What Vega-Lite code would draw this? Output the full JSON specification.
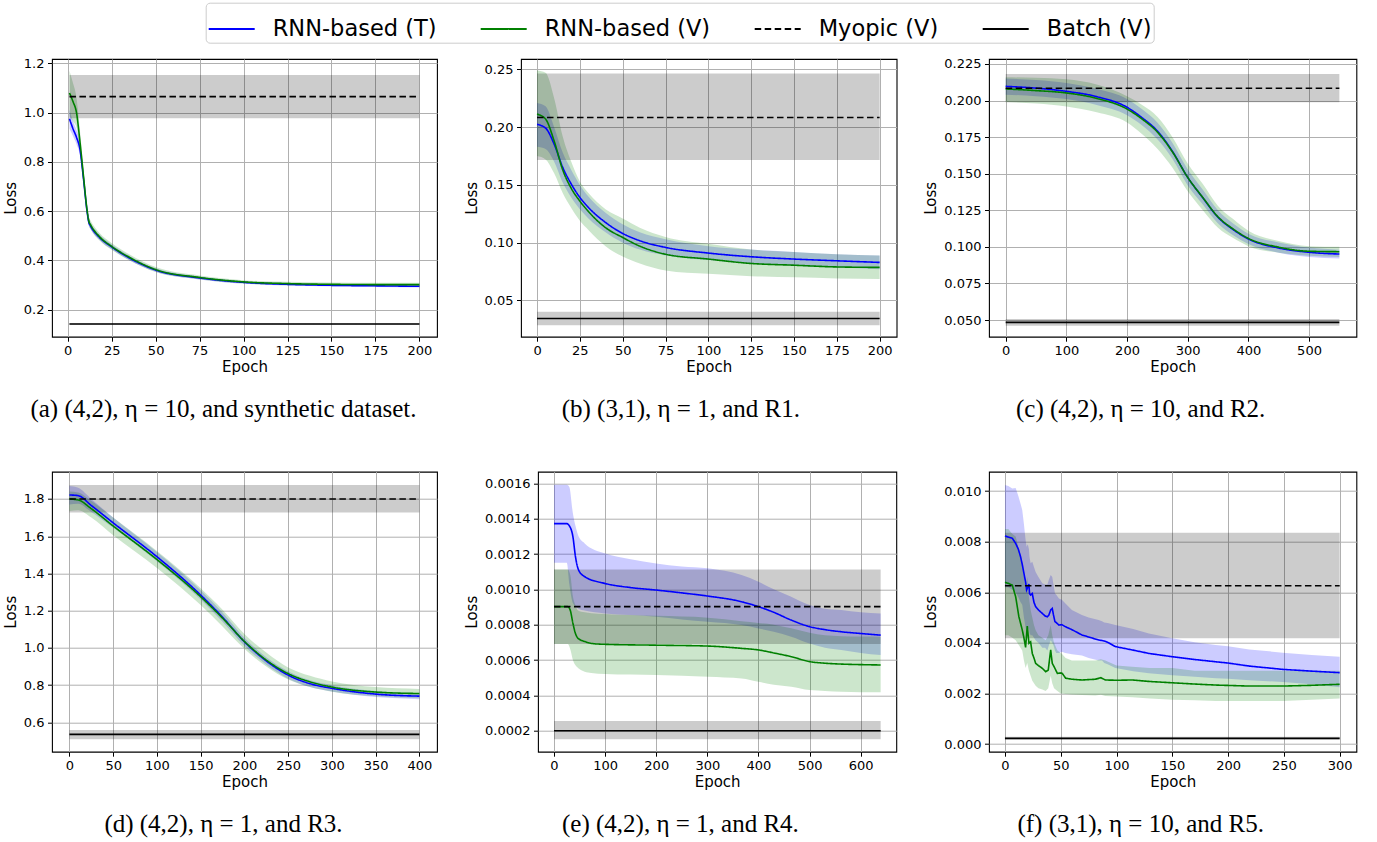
{
"$schema": "https://vega.github.io/schema/vega-lite/v6.json",
"background": "#ffffff",
"padding": {"left": 2, "top": 2, "right": 5, "bottom": 0},
"datasets": {
"curves": [
{"p":"a","s":"RNN-based (T)","x":1,"y":0.975,"lo":0.935,"hi":1.012},
{"p":"a","s":"RNN-based (T)","x":3,"y":0.935,"lo":0.905,"hi":0.965},
{"p":"a","s":"RNN-based (T)","x":5,"y":0.9,"lo":0.872,"hi":0.93},
{"p":"a","s":"RNN-based (T)","x":7,"y":0.85,"lo":0.825,"hi":0.875},
{"p":"a","s":"RNN-based (T)","x":9,"y":0.73,"lo":0.71,"hi":0.75},
{"p":"a","s":"RNN-based (T)","x":11,"y":0.6,"lo":0.585,"hi":0.615},
{"p":"a","s":"RNN-based (T)","x":12,"y":0.555,"lo":0.54,"hi":0.57},
{"p":"a","s":"RNN-based (T)","x":13,"y":0.54,"lo":0.527,"hi":0.553},
{"p":"a","s":"RNN-based (T)","x":18,"y":0.494,"lo":0.483,"hi":0.505},
{"p":"a","s":"RNN-based (T)","x":25,"y":0.455,"lo":0.445,"hi":0.465},
{"p":"a","s":"RNN-based (T)","x":35,"y":0.41,"lo":0.401,"hi":0.419},
{"p":"a","s":"RNN-based (T)","x":50,"y":0.361,"lo":0.354,"hi":0.368},
{"p":"a","s":"RNN-based (T)","x":75,"y":0.329,"lo":0.323,"hi":0.335},
{"p":"a","s":"RNN-based (T)","x":100,"y":0.311,"lo":0.306,"hi":0.316},
{"p":"a","s":"RNN-based (T)","x":125,"y":0.303,"lo":0.298,"hi":0.308},
{"p":"a","s":"RNN-based (T)","x":150,"y":0.299,"lo":0.294,"hi":0.304},
{"p":"a","s":"RNN-based (T)","x":175,"y":0.297,"lo":0.292,"hi":0.302},
{"p":"a","s":"RNN-based (T)","x":200,"y":0.295,"lo":0.29,"hi":0.3},
{"p":"a","s":"RNN-based (V)","x":1,"y":1.08,"lo":0.985,"hi":1.17},
{"p":"a","s":"RNN-based (V)","x":3,"y":1.045,"lo":0.965,"hi":1.12},
{"p":"a","s":"RNN-based (V)","x":5,"y":1.0,"lo":0.94,"hi":1.06},
{"p":"a","s":"RNN-based (V)","x":7,"y":0.88,"lo":0.84,"hi":0.925},
{"p":"a","s":"RNN-based (V)","x":9,"y":0.74,"lo":0.71,"hi":0.77},
{"p":"a","s":"RNN-based (V)","x":11,"y":0.605,"lo":0.585,"hi":0.625},
{"p":"a","s":"RNN-based (V)","x":12,"y":0.56,"lo":0.543,"hi":0.577},
{"p":"a","s":"RNN-based (V)","x":13,"y":0.545,"lo":0.528,"hi":0.562},
{"p":"a","s":"RNN-based (V)","x":18,"y":0.497,"lo":0.482,"hi":0.512},
{"p":"a","s":"RNN-based (V)","x":25,"y":0.457,"lo":0.443,"hi":0.471},
{"p":"a","s":"RNN-based (V)","x":35,"y":0.413,"lo":0.401,"hi":0.425},
{"p":"a","s":"RNN-based (V)","x":50,"y":0.363,"lo":0.353,"hi":0.373},
{"p":"a","s":"RNN-based (V)","x":75,"y":0.331,"lo":0.323,"hi":0.339},
{"p":"a","s":"RNN-based (V)","x":100,"y":0.313,"lo":0.306,"hi":0.32},
{"p":"a","s":"RNN-based (V)","x":125,"y":0.306,"lo":0.299,"hi":0.313},
{"p":"a","s":"RNN-based (V)","x":150,"y":0.303,"lo":0.296,"hi":0.31},
{"p":"a","s":"RNN-based (V)","x":175,"y":0.302,"lo":0.295,"hi":0.309},
{"p":"a","s":"RNN-based (V)","x":200,"y":0.302,"lo":0.295,"hi":0.309},
{"p":"b","s":"RNN-based (T)","x":0,"y":0.2024,"lo":0.183,"hi":0.221},
{"p":"b","s":"RNN-based (T)","x":5,"y":0.1992,"lo":0.181,"hi":0.218},
{"p":"b","s":"RNN-based (T)","x":10,"y":0.1853,"lo":0.17,"hi":0.2},
{"p":"b","s":"RNN-based (T)","x":15,"y":0.1652,"lo":0.152,"hi":0.178},
{"p":"b","s":"RNN-based (T)","x":20,"y":0.1507,"lo":0.139,"hi":0.163},
{"p":"b","s":"RNN-based (T)","x":25,"y":0.1392,"lo":0.129,"hi":0.15},
{"p":"b","s":"RNN-based (T)","x":30,"y":0.1305,"lo":0.121,"hi":0.14},
{"p":"b","s":"RNN-based (T)","x":40,"y":0.1175,"lo":0.109,"hi":0.126},
{"p":"b","s":"RNN-based (T)","x":50,"y":0.108,"lo":0.1,"hi":0.116},
{"p":"b","s":"RNN-based (T)","x":60,"y":0.1017,"lo":0.094,"hi":0.109},
{"p":"b","s":"RNN-based (T)","x":75,"y":0.0959,"lo":0.089,"hi":0.103},
{"p":"b","s":"RNN-based (T)","x":100,"y":0.091,"lo":0.085,"hi":0.097},
{"p":"b","s":"RNN-based (T)","x":125,"y":0.0878,"lo":0.082,"hi":0.094},
{"p":"b","s":"RNN-based (T)","x":150,"y":0.0858,"lo":0.08,"hi":0.092},
{"p":"b","s":"RNN-based (T)","x":175,"y":0.0843,"lo":0.0785,"hi":0.09},
{"p":"b","s":"RNN-based (T)","x":200,"y":0.0829,"lo":0.077,"hi":0.089},
{"p":"b","s":"RNN-based (V)","x":0,"y":0.2113,"lo":0.175,"hi":0.249},
{"p":"b","s":"RNN-based (V)","x":5,"y":0.207,"lo":0.172,"hi":0.247},
{"p":"b","s":"RNN-based (V)","x":10,"y":0.188,"lo":0.16,"hi":0.225},
{"p":"b","s":"RNN-based (V)","x":15,"y":0.163,"lo":0.143,"hi":0.192},
{"p":"b","s":"RNN-based (V)","x":20,"y":0.147,"lo":0.13,"hi":0.17},
{"p":"b","s":"RNN-based (V)","x":25,"y":0.136,"lo":0.119,"hi":0.153},
{"p":"b","s":"RNN-based (V)","x":30,"y":0.127,"lo":0.111,"hi":0.143},
{"p":"b","s":"RNN-based (V)","x":40,"y":0.113,"lo":0.097,"hi":0.129},
{"p":"b","s":"RNN-based (V)","x":50,"y":0.1045,"lo":0.088,"hi":0.121},
{"p":"b","s":"RNN-based (V)","x":60,"y":0.097,"lo":0.082,"hi":0.113},
{"p":"b","s":"RNN-based (V)","x":75,"y":0.09,"lo":0.076,"hi":0.105},
{"p":"b","s":"RNN-based (V)","x":100,"y":0.0858,"lo":0.073,"hi":0.099},
{"p":"b","s":"RNN-based (V)","x":125,"y":0.082,"lo":0.071,"hi":0.094},
{"p":"b","s":"RNN-based (V)","x":150,"y":0.0805,"lo":0.07,"hi":0.092},
{"p":"b","s":"RNN-based (V)","x":175,"y":0.079,"lo":0.069,"hi":0.09},
{"p":"b","s":"RNN-based (V)","x":200,"y":0.0786,"lo":0.0685,"hi":0.089},
{"p":"c","s":"RNN-based (T)","x":0,"y":0.2097,"lo":0.204,"hi":0.215},
{"p":"c","s":"RNN-based (T)","x":50,"y":0.2085,"lo":0.203,"hi":0.214},
{"p":"c","s":"RNN-based (T)","x":100,"y":0.2063,"lo":0.201,"hi":0.212},
{"p":"c","s":"RNN-based (T)","x":150,"y":0.2027,"lo":0.197,"hi":0.208},
{"p":"c","s":"RNN-based (T)","x":200,"y":0.1954,"lo":0.19,"hi":0.201},
{"p":"c","s":"RNN-based (T)","x":225,"y":0.1882,"lo":0.183,"hi":0.194},
{"p":"c","s":"RNN-based (T)","x":250,"y":0.1792,"lo":0.1735,"hi":0.185},
{"p":"c","s":"RNN-based (T)","x":275,"y":0.1652,"lo":0.16,"hi":0.171},
{"p":"c","s":"RNN-based (T)","x":300,"y":0.1475,"lo":0.142,"hi":0.153},
{"p":"c","s":"RNN-based (T)","x":325,"y":0.1335,"lo":0.129,"hi":0.139},
{"p":"c","s":"RNN-based (T)","x":350,"y":0.1202,"lo":0.116,"hi":0.125},
{"p":"c","s":"RNN-based (T)","x":375,"y":0.1118,"lo":0.108,"hi":0.116},
{"p":"c","s":"RNN-based (T)","x":400,"y":0.1054,"lo":0.102,"hi":0.109},
{"p":"c","s":"RNN-based (T)","x":450,"y":0.0992,"lo":0.096,"hi":0.103},
{"p":"c","s":"RNN-based (T)","x":500,"y":0.0963,"lo":0.093,"hi":0.0995},
{"p":"c","s":"RNN-based (T)","x":550,"y":0.0951,"lo":0.092,"hi":0.098},
{"p":"c","s":"RNN-based (V)","x":0,"y":0.2079,"lo":0.199,"hi":0.216},
{"p":"c","s":"RNN-based (V)","x":50,"y":0.2068,"lo":0.198,"hi":0.2155},
{"p":"c","s":"RNN-based (V)","x":100,"y":0.2052,"lo":0.196,"hi":0.2145},
{"p":"c","s":"RNN-based (V)","x":150,"y":0.2015,"lo":0.192,"hi":0.211},
{"p":"c","s":"RNN-based (V)","x":200,"y":0.1942,"lo":0.185,"hi":0.203},
{"p":"c","s":"RNN-based (V)","x":225,"y":0.1873,"lo":0.177,"hi":0.197},
{"p":"c","s":"RNN-based (V)","x":250,"y":0.1785,"lo":0.167,"hi":0.189},
{"p":"c","s":"RNN-based (V)","x":275,"y":0.1648,"lo":0.154,"hi":0.175},
{"p":"c","s":"RNN-based (V)","x":300,"y":0.1475,"lo":0.138,"hi":0.157},
{"p":"c","s":"RNN-based (V)","x":325,"y":0.1337,"lo":0.125,"hi":0.143},
{"p":"c","s":"RNN-based (V)","x":350,"y":0.1205,"lo":0.113,"hi":0.128},
{"p":"c","s":"RNN-based (V)","x":375,"y":0.1122,"lo":0.106,"hi":0.119},
{"p":"c","s":"RNN-based (V)","x":400,"y":0.1058,"lo":0.1005,"hi":0.111},
{"p":"c","s":"RNN-based (V)","x":450,"y":0.0998,"lo":0.096,"hi":0.104},
{"p":"c","s":"RNN-based (V)","x":500,"y":0.097,"lo":0.094,"hi":0.1005},
{"p":"c","s":"RNN-based (V)","x":550,"y":0.0967,"lo":0.093,"hi":0.1},
{"p":"d","s":"RNN-based (T)","x":0,"y":1.8215,"lo":1.77,"hi":1.87},
{"p":"d","s":"RNN-based (T)","x":10,"y":1.818,"lo":1.775,"hi":1.86},
{"p":"d","s":"RNN-based (T)","x":25,"y":1.765,"lo":1.73,"hi":1.8},
{"p":"d","s":"RNN-based (T)","x":50,"y":1.672,"lo":1.645,"hi":1.7},
{"p":"d","s":"RNN-based (T)","x":100,"y":1.49,"lo":1.465,"hi":1.515},
{"p":"d","s":"RNN-based (T)","x":150,"y":1.284,"lo":1.26,"hi":1.31},
{"p":"d","s":"RNN-based (T)","x":175,"y":1.165,"lo":1.14,"hi":1.19},
{"p":"d","s":"RNN-based (T)","x":200,"y":1.033,"lo":1.01,"hi":1.055},
{"p":"d","s":"RNN-based (T)","x":225,"y":0.93,"lo":0.91,"hi":0.95},
{"p":"d","s":"RNN-based (T)","x":250,"y":0.854,"lo":0.835,"hi":0.875},
{"p":"d","s":"RNN-based (T)","x":275,"y":0.808,"lo":0.79,"hi":0.826},
{"p":"d","s":"RNN-based (T)","x":300,"y":0.783,"lo":0.766,"hi":0.8},
{"p":"d","s":"RNN-based (T)","x":350,"y":0.752,"lo":0.736,"hi":0.768},
{"p":"d","s":"RNN-based (T)","x":400,"y":0.741,"lo":0.725,"hi":0.757},
{"p":"d","s":"RNN-based (V)","x":0,"y":1.8,"lo":1.735,"hi":1.84},
{"p":"d","s":"RNN-based (V)","x":10,"y":1.795,"lo":1.74,"hi":1.835},
{"p":"d","s":"RNN-based (V)","x":25,"y":1.748,"lo":1.7,"hi":1.79},
{"p":"d","s":"RNN-based (V)","x":50,"y":1.655,"lo":1.605,"hi":1.7},
{"p":"d","s":"RNN-based (V)","x":100,"y":1.475,"lo":1.43,"hi":1.52},
{"p":"d","s":"RNN-based (V)","x":150,"y":1.275,"lo":1.23,"hi":1.32},
{"p":"d","s":"RNN-based (V)","x":175,"y":1.16,"lo":1.115,"hi":1.205},
{"p":"d","s":"RNN-based (V)","x":200,"y":1.035,"lo":0.995,"hi":1.075},
{"p":"d","s":"RNN-based (V)","x":225,"y":0.935,"lo":0.9,"hi":0.975},
{"p":"d","s":"RNN-based (V)","x":250,"y":0.862,"lo":0.83,"hi":0.895},
{"p":"d","s":"RNN-based (V)","x":275,"y":0.818,"lo":0.79,"hi":0.85},
{"p":"d","s":"RNN-based (V)","x":300,"y":0.79,"lo":0.765,"hi":0.82},
{"p":"d","s":"RNN-based (V)","x":350,"y":0.763,"lo":0.74,"hi":0.79},
{"p":"d","s":"RNN-based (V)","x":400,"y":0.755,"lo":0.73,"hi":0.78},
{"p":"e","s":"RNN-based (T)","x":0,"y":0.001372,"lo":0.001151,"hi":0.001592},
{"p":"e","s":"RNN-based (T)","x":25,"y":0.001372,"lo":0.001151,"hi":0.001592},
{"p":"e","s":"RNN-based (T)","x":30,"y":0.00136,"lo":0.00103,"hi":0.00158},
{"p":"e","s":"RNN-based (T)","x":37,"y":0.001298,"lo":0.000921,"hi":0.00143},
{"p":"e","s":"RNN-based (T)","x":42,"y":0.001185,"lo":0.000905,"hi":0.00136},
{"p":"e","s":"RNN-based (T)","x":48,"y":0.00111,"lo":0.00089,"hi":0.0013},
{"p":"e","s":"RNN-based (T)","x":60,"y":0.001072,"lo":0.00088,"hi":0.00126},
{"p":"e","s":"RNN-based (T)","x":99,"y":0.001034,"lo":0.000864,"hi":0.001204},
{"p":"e","s":"RNN-based (T)","x":150,"y":0.00101,"lo":0.000855,"hi":0.00117},
{"p":"e","s":"RNN-based (T)","x":200,"y":0.000996,"lo":0.000845,"hi":0.001147},
{"p":"e","s":"RNN-based (T)","x":250,"y":0.00098,"lo":0.00083,"hi":0.00113},
{"p":"e","s":"RNN-based (T)","x":301,"y":0.000962,"lo":0.000817,"hi":0.001119},
{"p":"e","s":"RNN-based (T)","x":367,"y":0.00093,"lo":0.000798,"hi":0.001081},
{"p":"e","s":"RNN-based (T)","x":400,"y":0.000902,"lo":0.000779,"hi":0.001043},
{"p":"e","s":"RNN-based (T)","x":430,"y":0.00087,"lo":0.00076,"hi":0.001},
{"p":"e","s":"RNN-based (T)","x":464,"y":0.000826,"lo":0.000732,"hi":0.000958},
{"p":"e","s":"RNN-based (T)","x":500,"y":0.000789,"lo":0.000694,"hi":0.000911},
{"p":"e","s":"RNN-based (T)","x":530,"y":0.000772,"lo":0.00067,"hi":0.00089},
{"p":"e","s":"RNN-based (T)","x":562,"y":0.00076,"lo":0.000657,"hi":0.000883},
{"p":"e","s":"RNN-based (T)","x":600,"y":0.00075,"lo":0.00064,"hi":0.00087},
{"p":"e","s":"RNN-based (T)","x":639,"y":0.000741,"lo":0.000628,"hi":0.000864},
{"p":"e","s":"RNN-based (V)","x":0,"y":0.000902,"lo":0.000691,"hi":0.001113},
{"p":"e","s":"RNN-based (V)","x":27,"y":0.000902,"lo":0.000691,"hi":0.001113},
{"p":"e","s":"RNN-based (V)","x":32,"y":0.00088,"lo":0.00066,"hi":0.00108},
{"p":"e","s":"RNN-based (V)","x":37,"y":0.000808,"lo":0.0006,"hi":0.00096},
{"p":"e","s":"RNN-based (V)","x":42,"y":0.00075,"lo":0.00057,"hi":0.00091},
{"p":"e","s":"RNN-based (V)","x":47,"y":0.000723,"lo":0.000555,"hi":0.00088},
{"p":"e","s":"RNN-based (V)","x":60,"y":0.000705,"lo":0.000534,"hi":0.00087},
{"p":"e","s":"RNN-based (V)","x":73,"y":0.000694,"lo":0.000527,"hi":0.000865},
{"p":"e","s":"RNN-based (V)","x":99,"y":0.000689,"lo":0.000521,"hi":0.00086},
{"p":"e","s":"RNN-based (V)","x":200,"y":0.000684,"lo":0.000515,"hi":0.00085},
{"p":"e","s":"RNN-based (V)","x":301,"y":0.000679,"lo":0.000506,"hi":0.00084},
{"p":"e","s":"RNN-based (V)","x":367,"y":0.000666,"lo":0.000496,"hi":0.00082},
{"p":"e","s":"RNN-based (V)","x":400,"y":0.000657,"lo":0.000477,"hi":0.00081},
{"p":"e","s":"RNN-based (V)","x":430,"y":0.00064,"lo":0.00046,"hi":0.0008},
{"p":"e","s":"RNN-based (V)","x":464,"y":0.000619,"lo":0.000449,"hi":0.00078},
{"p":"e","s":"RNN-based (V)","x":500,"y":0.000591,"lo":0.00043,"hi":0.000755},
{"p":"e","s":"RNN-based (V)","x":530,"y":0.000582,"lo":0.000425,"hi":0.00074},
{"p":"e","s":"RNN-based (V)","x":562,"y":0.000577,"lo":0.00042,"hi":0.000735},
{"p":"e","s":"RNN-based (V)","x":600,"y":0.000574,"lo":0.000418,"hi":0.000733},
{"p":"e","s":"RNN-based (V)","x":639,"y":0.000572,"lo":0.000417,"hi":0.000732},
{"p":"f","s":"RNN-based (T)","x":0,"y":0.00822,"lo":0.0062,"hi":0.01024},
{"p":"f","s":"RNN-based (T)","x":3,"y":0.00818,"lo":0.0062,"hi":0.0102},
{"p":"f","s":"RNN-based (T)","x":6.6,"y":0.00813,"lo":0.0061,"hi":0.0101},
{"p":"f","s":"RNN-based (T)","x":9.6,"y":0.00793,"lo":0.006,"hi":0.01012},
{"p":"f","s":"RNN-based (T)","x":12,"y":0.0077,"lo":0.0058,"hi":0.0098},
{"p":"f","s":"RNN-based (T)","x":14,"y":0.0074,"lo":0.0056,"hi":0.0095},
{"p":"f","s":"RNN-based (T)","x":15.5,"y":0.0071,"lo":0.0055,"hi":0.00925},
{"p":"f","s":"RNN-based (T)","x":17,"y":0.00675,"lo":0.005,"hi":0.0087},
{"p":"f","s":"RNN-based (T)","x":18.5,"y":0.0064,"lo":0.0046,"hi":0.00806},
{"p":"f","s":"RNN-based (T)","x":19.4,"y":0.00609,"lo":0.0044,"hi":0.0078},
{"p":"f","s":"RNN-based (T)","x":20.5,"y":0.0062,"lo":0.0045,"hi":0.0079},
{"p":"f","s":"RNN-based (T)","x":21.5,"y":0.00632,"lo":0.0046,"hi":0.0077},
{"p":"f","s":"RNN-based (T)","x":22,"y":0.00595,"lo":0.0044,"hi":0.0074},
{"p":"f","s":"RNN-based (T)","x":23,"y":0.00589,"lo":0.0043,"hi":0.00714},
{"p":"f","s":"RNN-based (T)","x":24.5,"y":0.00595,"lo":0.0043,"hi":0.0072},
{"p":"f","s":"RNN-based (T)","x":26,"y":0.0056,"lo":0.0042,"hi":0.007},
{"p":"f","s":"RNN-based (T)","x":27.5,"y":0.00543,"lo":0.0041,"hi":0.0068},
{"p":"f","s":"RNN-based (T)","x":30,"y":0.0053,"lo":0.004,"hi":0.0066},
{"p":"f","s":"RNN-based (T)","x":33.5,"y":0.00516,"lo":0.0038,"hi":0.00635},
{"p":"f","s":"RNN-based (T)","x":36,"y":0.00506,"lo":0.0038,"hi":0.0063},
{"p":"f","s":"RNN-based (T)","x":38,"y":0.00503,"lo":0.0037,"hi":0.0063},
{"p":"f","s":"RNN-based (T)","x":39.4,"y":0.0051,"lo":0.0039,"hi":0.0065},
{"p":"f","s":"RNN-based (T)","x":41,"y":0.0053,"lo":0.0041,"hi":0.00668},
{"p":"f","s":"RNN-based (T)","x":42.4,"y":0.00536,"lo":0.004,"hi":0.0066},
{"p":"f","s":"RNN-based (T)","x":43.5,"y":0.0051,"lo":0.0039,"hi":0.0063},
{"p":"f","s":"RNN-based (T)","x":44.8,"y":0.00484,"lo":0.0037,"hi":0.00596},
{"p":"f","s":"RNN-based (T)","x":46,"y":0.0048,"lo":0.0036,"hi":0.0059},
{"p":"f","s":"RNN-based (T)","x":48.4,"y":0.0047,"lo":0.0036,"hi":0.00575},
{"p":"f","s":"RNN-based (T)","x":51,"y":0.00472,"lo":0.00365,"hi":0.0057},
{"p":"f","s":"RNN-based (T)","x":54,"y":0.00464,"lo":0.0036,"hi":0.00556},
{"p":"f","s":"RNN-based (T)","x":60,"y":0.00452,"lo":0.00355,"hi":0.0053},
{"p":"f","s":"RNN-based (T)","x":69,"y":0.00431,"lo":0.0035,"hi":0.0051},
{"p":"f","s":"RNN-based (T)","x":75,"y":0.00423,"lo":0.0034,"hi":0.005},
{"p":"f","s":"RNN-based (T)","x":84,"y":0.00411,"lo":0.0033,"hi":0.0049},
{"p":"f","s":"RNN-based (T)","x":87,"y":0.00409,"lo":0.0033,"hi":0.00485},
{"p":"f","s":"RNN-based (T)","x":89,"y":0.00407,"lo":0.0032,"hi":0.0048},
{"p":"f","s":"RNN-based (T)","x":92,"y":0.00402,"lo":0.00315,"hi":0.00478},
{"p":"f","s":"RNN-based (T)","x":99,"y":0.00385,"lo":0.003,"hi":0.0047},
{"p":"f","s":"RNN-based (T)","x":115,"y":0.00371,"lo":0.00288,"hi":0.00455},
{"p":"f","s":"RNN-based (T)","x":129,"y":0.00358,"lo":0.0028,"hi":0.00437},
{"p":"f","s":"RNN-based (T)","x":150,"y":0.00345,"lo":0.00272,"hi":0.00418},
{"p":"f","s":"RNN-based (T)","x":170,"y":0.00334,"lo":0.00266,"hi":0.00402},
{"p":"f","s":"RNN-based (T)","x":189,"y":0.00325,"lo":0.0026,"hi":0.00391},
{"p":"f","s":"RNN-based (T)","x":200,"y":0.0032,"lo":0.00258,"hi":0.00386},
{"p":"f","s":"RNN-based (T)","x":219,"y":0.00308,"lo":0.00252,"hi":0.00374},
{"p":"f","s":"RNN-based (T)","x":249,"y":0.00295,"lo":0.00245,"hi":0.00361},
{"p":"f","s":"RNN-based (T)","x":275,"y":0.00288,"lo":0.00236,"hi":0.00352},
{"p":"f","s":"RNN-based (T)","x":300,"y":0.00282,"lo":0.00224,"hi":0.00345},
{"p":"f","s":"RNN-based (V)","x":0,"y":0.00639,"lo":0.0043,"hi":0.0085},
{"p":"f","s":"RNN-based (V)","x":3,"y":0.00635,"lo":0.0043,"hi":0.0085},
{"p":"f","s":"RNN-based (V)","x":6.6,"y":0.00628,"lo":0.0042,"hi":0.0083},
{"p":"f","s":"RNN-based (V)","x":9.6,"y":0.00582,"lo":0.0041,"hi":0.0082},
{"p":"f","s":"RNN-based (V)","x":12.5,"y":0.00503,"lo":0.0039,"hi":0.0077},
{"p":"f","s":"RNN-based (V)","x":15.5,"y":0.00451,"lo":0.0037,"hi":0.0072},
{"p":"f","s":"RNN-based (V)","x":17,"y":0.0042,"lo":0.0033,"hi":0.0066},
{"p":"f","s":"RNN-based (V)","x":18.5,"y":0.00382,"lo":0.003,"hi":0.0062},
{"p":"f","s":"RNN-based (V)","x":20,"y":0.00466,"lo":0.0032,"hi":0.0066},
{"p":"f","s":"RNN-based (V)","x":21.5,"y":0.00398,"lo":0.0029,"hi":0.0058},
{"p":"f","s":"RNN-based (V)","x":23,"y":0.00404,"lo":0.0027,"hi":0.0053},
{"p":"f","s":"RNN-based (V)","x":24.5,"y":0.00358,"lo":0.0025,"hi":0.005},
{"p":"f","s":"RNN-based (V)","x":26,"y":0.0034,"lo":0.0024,"hi":0.0047},
{"p":"f","s":"RNN-based (V)","x":27.5,"y":0.00319,"lo":0.0023,"hi":0.0045},
{"p":"f","s":"RNN-based (V)","x":30,"y":0.0031,"lo":0.0022,"hi":0.0043},
{"p":"f","s":"RNN-based (V)","x":33.5,"y":0.00299,"lo":0.00215,"hi":0.0042},
{"p":"f","s":"RNN-based (V)","x":36.5,"y":0.00286,"lo":0.0021,"hi":0.0041},
{"p":"f","s":"RNN-based (V)","x":38.8,"y":0.00292,"lo":0.0022,"hi":0.0043},
{"p":"f","s":"RNN-based (V)","x":41,"y":0.00372,"lo":0.0027,"hi":0.0047},
{"p":"f","s":"RNN-based (V)","x":42.4,"y":0.00319,"lo":0.0024,"hi":0.0043},
{"p":"f","s":"RNN-based (V)","x":44,"y":0.00306,"lo":0.0022,"hi":0.004},
{"p":"f","s":"RNN-based (V)","x":47,"y":0.00279,"lo":0.0021,"hi":0.0037},
{"p":"f","s":"RNN-based (V)","x":50,"y":0.00281,"lo":0.002,"hi":0.0036},
{"p":"f","s":"RNN-based (V)","x":51.4,"y":0.00279,"lo":0.002,"hi":0.00355},
{"p":"f","s":"RNN-based (V)","x":54.4,"y":0.0026,"lo":0.00198,"hi":0.0034},
{"p":"f","s":"RNN-based (V)","x":60,"y":0.00256,"lo":0.00196,"hi":0.0033},
{"p":"f","s":"RNN-based (V)","x":69,"y":0.00253,"lo":0.00194,"hi":0.0033},
{"p":"f","s":"RNN-based (V)","x":81,"y":0.00256,"lo":0.00192,"hi":0.0033},
{"p":"f","s":"RNN-based (V)","x":86,"y":0.00262,"lo":0.00195,"hi":0.00335},
{"p":"f","s":"RNN-based (V)","x":90,"y":0.00253,"lo":0.0019,"hi":0.0033},
{"p":"f","s":"RNN-based (V)","x":100,"y":0.00252,"lo":0.00188,"hi":0.0031},
{"p":"f","s":"RNN-based (V)","x":114,"y":0.00253,"lo":0.00185,"hi":0.00305},
{"p":"f","s":"RNN-based (V)","x":130,"y":0.00247,"lo":0.0018,"hi":0.003},
{"p":"f","s":"RNN-based (V)","x":150,"y":0.00242,"lo":0.00175,"hi":0.003},
{"p":"f","s":"RNN-based (V)","x":170,"y":0.00237,"lo":0.00173,"hi":0.0029},
{"p":"f","s":"RNN-based (V)","x":189,"y":0.00233,"lo":0.0017,"hi":0.0029},
{"p":"f","s":"RNN-based (V)","x":219,"y":0.00229,"lo":0.0017,"hi":0.0029},
{"p":"f","s":"RNN-based (V)","x":249,"y":0.00229,"lo":0.0017,"hi":0.0029},
{"p":"f","s":"RNN-based (V)","x":275,"y":0.00232,"lo":0.00175,"hi":0.0029},
{"p":"f","s":"RNN-based (V)","x":300,"y":0.00236,"lo":0.0018,"hi":0.0029}
],
"hl": [
{"p":"a","s":"Myopic (V)","x0":1,"x1":200,"y":1.065,"lo":0.977,"hi":1.153},
{"p":"a","s":"Batch (V)","x0":1,"x1":200,"y":0.142,"lo":0.139,"hi":0.145},
{"p":"b","s":"Myopic (V)","x0":0,"x1":200,"y":0.2084,"lo":0.1715,"hi":0.2465},
{"p":"b","s":"Batch (V)","x0":0,"x1":200,"y":0.0344,"lo":0.0286,"hi":0.0402},
{"p":"c","s":"Myopic (V)","x0":0,"x1":550,"y":0.2084,"lo":0.1988,"hi":0.2182},
{"p":"c","s":"Batch (V)","x0":0,"x1":550,"y":0.0484,"lo":0.0461,"hi":0.0507},
{"p":"d","s":"Myopic (V)","x0":0,"x1":400,"y":1.8,"lo":1.728,"hi":1.875},
{"p":"d","s":"Batch (V)","x0":0,"x1":400,"y":0.5355,"lo":0.509,"hi":0.559},
{"p":"e","s":"Myopic (V)","x0":0,"x1":639,"y":0.000902,"lo":0.000691,"hi":0.001113},
{"p":"e","s":"Batch (V)","x0":0,"x1":639,"y":0.0002,"lo":0.000151,"hi":0.000255},
{"p":"f","s":"Myopic (V)","x0":0,"x1":300,"y":0.006258,"lo":0.004177,"hi":0.008353},
{"p":"f","s":"Batch (V)","x0":0,"x1":300,"y":0.000224,"lo":0.00018,"hi":0.00029}
]
},
"vconcat": [
{"hconcat": [
{
"width": 385, "height": 277.7,
"title": {"text": "(a) (4,2), η = 10, and synthetic dataset.", "dx": -21},
"layer": [
{"data":{"name":"curves"},"transform":[{"filter":"datum.p==='a' && datum.s==='RNN-based (T)'"}],"mark":{"type":"area","color":"#0000ff","opacity":0.2,"interpolate":"monotone"},
"encoding":{"x":{"field":"x","type":"quantitative","title":"Epoch","scale":{"domain":[-8.93,210.0],"nice":false,"zero":false},"axis":{"values":[0,25,50,75,100,125,150,175,200],"format":"d"}},
"y":{"field":"lo","type":"quantitative","title":"Loss","scale":{"domain":[0.0904,1.2179],"nice":false,"zero":false},"axis":{"values":[0.2,0.4,0.6,0.8,1.0,1.2],"format":".1f"}},"y2":{"field":"hi"}}},
{"data":{"name":"curves"},"transform":[{"filter":"datum.p==='a' && datum.s==='RNN-based (V)'"}],"mark":{"type":"area","color":"#008000","opacity":0.2,"interpolate":"monotone"},
"encoding":{"x":{"field":"x","type":"quantitative","title":"Epoch","scale":{"domain":[-8.93,210.0],"nice":false,"zero":false},"axis":{"values":[0,25,50,75,100,125,150,175,200],"format":"d"}},
"y":{"field":"lo","type":"quantitative","title":"Loss","scale":{"domain":[0.0904,1.2179],"nice":false,"zero":false},"axis":{"values":[0.2,0.4,0.6,0.8,1.0,1.2],"format":".1f"}},"y2":{"field":"hi"}}},
{"data":{"name":"hl"},"transform":[{"filter":"datum.p==='a'"}],"mark":{"type":"rect","color":"#000000","opacity":0.2},
"encoding":{"x":{"field":"x0","type":"quantitative","title":"Epoch","scale":{"domain":[-8.93,210.0],"nice":false,"zero":false},"axis":{"values":[0,25,50,75,100,125,150,175,200],"format":"d"}},"x2":{"field":"x1"},
"y":{"field":"lo","type":"quantitative","title":"Loss","scale":{"domain":[0.0904,1.2179],"nice":false,"zero":false},"axis":{"values":[0.2,0.4,0.6,0.8,1.0,1.2],"format":".1f"}},"y2":{"field":"hi"}}},
{"data":{"name":"curves"},"transform":[{"filter":"datum.p==='a'"}],"mark":{"type":"line","strokeWidth":1.6,"interpolate":"monotone"},
"encoding":{"x":{"field":"x","type":"quantitative","title":"Epoch","scale":{"domain":[-8.93,210.0],"nice":false,"zero":false},"axis":{"values":[0,25,50,75,100,125,150,175,200],"format":"d"}},
"y":{"field":"y","type":"quantitative","title":"Loss","scale":{"domain":[0.0904,1.2179],"nice":false,"zero":false},"axis":{"values":[0.2,0.4,0.6,0.8,1.0,1.2],"format":".1f"}},
"color":{"field":"s","type":"nominal","scale":{"domain":["RNN-based (T)","RNN-based (V)","Myopic (V)","Batch (V)"],"range":["#0000ff","#008000","#000000","#000000"]},"legend":{"title":null,"orient":"none","legendX":153.7,"legendY":-56.3,"direction":"horizontal"}},
"strokeDash":{"field":"s","type":"nominal","scale":{"domain":["RNN-based (T)","RNN-based (V)","Myopic (V)","Batch (V)"],"range":[[1,0],[1,0],[6.5,3.5],[1,0]]},"legend":{"title":null,"orient":"none","legendX":153.7,"legendY":-56.3,"direction":"horizontal"}}}},
{"data":{"name":"hl"},"transform":[{"filter":"datum.p==='a'"}],"mark":{"type":"rule","strokeWidth":1.6},
"encoding":{"x":{"field":"x0","type":"quantitative","title":"Epoch","scale":{"domain":[-8.93,210.0],"nice":false,"zero":false},"axis":{"values":[0,25,50,75,100,125,150,175,200],"format":"d"}},"x2":{"field":"x1"},
"y":{"field":"y","type":"quantitative","title":"Loss","scale":{"domain":[0.0904,1.2179],"nice":false,"zero":false},"axis":{"values":[0.2,0.4,0.6,0.8,1.0,1.2],"format":".1f"}},
"color":{"field":"s","type":"nominal","scale":{"domain":["RNN-based (T)","RNN-based (V)","Myopic (V)","Batch (V)"],"range":["#0000ff","#008000","#000000","#000000"]},"legend":{"title":null,"orient":"none","legendX":153.7,"legendY":-56.3,"direction":"horizontal"}},
"strokeDash":{"field":"s","type":"nominal","scale":{"domain":["RNN-based (T)","RNN-based (V)","Myopic (V)","Batch (V)"],"range":[[1,0],[1,0],[6.5,3.5],[1,0]]},"legend":{"title":null,"orient":"none","legendX":153.7,"legendY":-56.3,"direction":"horizontal"}}}}
]
},
{"width": 83.4, "height": 10, "view": {"stroke": null}, "data": {"values": [{}]}, "mark": {"type": "text", "text": ""}, "encoding": {}},
{
"width": 375.6, "height": 277.7,
"title": {"text": "(b) (3,1), η = 1, and R1.", "dx": -28},
"layer": [
{"data":{"name":"curves"},"transform":[{"filter":"datum.p==='b' && datum.s==='RNN-based (T)'"}],"mark":{"type":"area","color":"#0000ff","opacity":0.2,"interpolate":"monotone"},
"encoding":{"x":{"field":"x","type":"quantitative","title":"Epoch","scale":{"domain":[-9.35,209.9],"nice":false,"zero":false},"axis":{"values":[0,25,50,75,100,125,150,175,200],"format":"d"}},
"y":{"field":"lo","type":"quantitative","title":"Loss","scale":{"domain":[0.0186,0.259],"nice":false,"zero":false},"axis":{"values":[0.05,0.1,0.15,0.2,0.25],"format":".2f"}},"y2":{"field":"hi"}}},
{"data":{"name":"curves"},"transform":[{"filter":"datum.p==='b' && datum.s==='RNN-based (V)'"}],"mark":{"type":"area","color":"#008000","opacity":0.2,"interpolate":"monotone"},
"encoding":{"x":{"field":"x","type":"quantitative","title":"Epoch","scale":{"domain":[-9.35,209.9],"nice":false,"zero":false},"axis":{"values":[0,25,50,75,100,125,150,175,200],"format":"d"}},
"y":{"field":"lo","type":"quantitative","title":"Loss","scale":{"domain":[0.0186,0.259],"nice":false,"zero":false},"axis":{"values":[0.05,0.1,0.15,0.2,0.25],"format":".2f"}},"y2":{"field":"hi"}}},
{"data":{"name":"hl"},"transform":[{"filter":"datum.p==='b'"}],"mark":{"type":"rect","color":"#000000","opacity":0.2},
"encoding":{"x":{"field":"x0","type":"quantitative","title":"Epoch","scale":{"domain":[-9.35,209.9],"nice":false,"zero":false},"axis":{"values":[0,25,50,75,100,125,150,175,200],"format":"d"}},"x2":{"field":"x1"},
"y":{"field":"lo","type":"quantitative","title":"Loss","scale":{"domain":[0.0186,0.259],"nice":false,"zero":false},"axis":{"values":[0.05,0.1,0.15,0.2,0.25],"format":".2f"}},"y2":{"field":"hi"}}},
{"data":{"name":"curves"},"transform":[{"filter":"datum.p==='b'"}],"mark":{"type":"line","strokeWidth":1.6,"interpolate":"monotone"},
"encoding":{"x":{"field":"x","type":"quantitative","title":"Epoch","scale":{"domain":[-9.35,209.9],"nice":false,"zero":false},"axis":{"values":[0,25,50,75,100,125,150,175,200],"format":"d"}},
"y":{"field":"y","type":"quantitative","title":"Loss","scale":{"domain":[0.0186,0.259],"nice":false,"zero":false},"axis":{"values":[0.05,0.1,0.15,0.2,0.25],"format":".2f"}},
"color":{"field":"s","type":"nominal","scale":{"domain":["RNN-based (T)","RNN-based (V)","Myopic (V)","Batch (V)"],"range":["#0000ff","#008000","#000000","#000000"]},"legend":{"title":null,"orient":"none","legendX":153.7,"legendY":-56.3,"direction":"horizontal"}},
"strokeDash":{"field":"s","type":"nominal","scale":{"domain":["RNN-based (T)","RNN-based (V)","Myopic (V)","Batch (V)"],"range":[[1,0],[1,0],[6.5,3.5],[1,0]]},"legend":{"title":null,"orient":"none","legendX":153.7,"legendY":-56.3,"direction":"horizontal"}}}},
{"data":{"name":"hl"},"transform":[{"filter":"datum.p==='b'"}],"mark":{"type":"rule","strokeWidth":1.6},
"encoding":{"x":{"field":"x0","type":"quantitative","title":"Epoch","scale":{"domain":[-9.35,209.9],"nice":false,"zero":false},"axis":{"values":[0,25,50,75,100,125,150,175,200],"format":"d"}},"x2":{"field":"x1"},
"y":{"field":"y","type":"quantitative","title":"Loss","scale":{"domain":[0.0186,0.259],"nice":false,"zero":false},"axis":{"values":[0.05,0.1,0.15,0.2,0.25],"format":".2f"}},
"color":{"field":"s","type":"nominal","scale":{"domain":["RNN-based (T)","RNN-based (V)","Myopic (V)","Batch (V)"],"range":["#0000ff","#008000","#000000","#000000"]},"legend":{"title":null,"orient":"none","legendX":153.7,"legendY":-56.3,"direction":"horizontal"}},
"strokeDash":{"field":"s","type":"nominal","scale":{"domain":["RNN-based (T)","RNN-based (V)","Myopic (V)","Batch (V)"],"range":[[1,0],[1,0],[6.5,3.5],[1,0]]},"legend":{"title":null,"orient":"none","legendX":153.7,"legendY":-56.3,"direction":"horizontal"}}}}
]
},
{"width": 92, "height": 10, "view": {"stroke": null}, "data": {"values": [{}]}, "mark": {"type": "text", "text": ""}, "encoding": {}},
{
"width": 367.4, "height": 277.7,
"title": {"text": "(c) (4,2), η = 10, and R2.", "dx": -32},
"layer": [
{"data":{"name":"curves"},"transform":[{"filter":"datum.p==='c' && datum.s==='RNN-based (T)'"}],"mark":{"type":"area","color":"#0000ff","opacity":0.2,"interpolate":"monotone"},
"encoding":{"x":{"field":"x","type":"quantitative","title":"Epoch","scale":{"domain":[-27.5,578.1],"nice":false,"zero":false},"axis":{"values":[0,100,200,300,400,500],"format":"d"}},
"y":{"field":"lo","type":"quantitative","title":"Loss","scale":{"domain":[0.0386,0.2284],"nice":false,"zero":false},"axis":{"values":[0.05,0.075,0.1,0.125,0.15,0.175,0.2,0.225],"format":".3f"}},"y2":{"field":"hi"}}},
{"data":{"name":"curves"},"transform":[{"filter":"datum.p==='c' && datum.s==='RNN-based (V)'"}],"mark":{"type":"area","color":"#008000","opacity":0.2,"interpolate":"monotone"},
"encoding":{"x":{"field":"x","type":"quantitative","title":"Epoch","scale":{"domain":[-27.5,578.1],"nice":false,"zero":false},"axis":{"values":[0,100,200,300,400,500],"format":"d"}},
"y":{"field":"lo","type":"quantitative","title":"Loss","scale":{"domain":[0.0386,0.2284],"nice":false,"zero":false},"axis":{"values":[0.05,0.075,0.1,0.125,0.15,0.175,0.2,0.225],"format":".3f"}},"y2":{"field":"hi"}}},
{"data":{"name":"hl"},"transform":[{"filter":"datum.p==='c'"}],"mark":{"type":"rect","color":"#000000","opacity":0.2},
"encoding":{"x":{"field":"x0","type":"quantitative","title":"Epoch","scale":{"domain":[-27.5,578.1],"nice":false,"zero":false},"axis":{"values":[0,100,200,300,400,500],"format":"d"}},"x2":{"field":"x1"},
"y":{"field":"lo","type":"quantitative","title":"Loss","scale":{"domain":[0.0386,0.2284],"nice":false,"zero":false},"axis":{"values":[0.05,0.075,0.1,0.125,0.15,0.175,0.2,0.225],"format":".3f"}},"y2":{"field":"hi"}}},
{"data":{"name":"curves"},"transform":[{"filter":"datum.p==='c'"}],"mark":{"type":"line","strokeWidth":1.6,"interpolate":"monotone"},
"encoding":{"x":{"field":"x","type":"quantitative","title":"Epoch","scale":{"domain":[-27.5,578.1],"nice":false,"zero":false},"axis":{"values":[0,100,200,300,400,500],"format":"d"}},
"y":{"field":"y","type":"quantitative","title":"Loss","scale":{"domain":[0.0386,0.2284],"nice":false,"zero":false},"axis":{"values":[0.05,0.075,0.1,0.125,0.15,0.175,0.2,0.225],"format":".3f"}},
"color":{"field":"s","type":"nominal","scale":{"domain":["RNN-based (T)","RNN-based (V)","Myopic (V)","Batch (V)"],"range":["#0000ff","#008000","#000000","#000000"]},"legend":{"title":null,"orient":"none","legendX":153.7,"legendY":-56.3,"direction":"horizontal"}},
"strokeDash":{"field":"s","type":"nominal","scale":{"domain":["RNN-based (T)","RNN-based (V)","Myopic (V)","Batch (V)"],"range":[[1,0],[1,0],[6.5,3.5],[1,0]]},"legend":{"title":null,"orient":"none","legendX":153.7,"legendY":-56.3,"direction":"horizontal"}}}},
{"data":{"name":"hl"},"transform":[{"filter":"datum.p==='c'"}],"mark":{"type":"rule","strokeWidth":1.6},
"encoding":{"x":{"field":"x0","type":"quantitative","title":"Epoch","scale":{"domain":[-27.5,578.1],"nice":false,"zero":false},"axis":{"values":[0,100,200,300,400,500],"format":"d"}},"x2":{"field":"x1"},
"y":{"field":"y","type":"quantitative","title":"Loss","scale":{"domain":[0.0386,0.2284],"nice":false,"zero":false},"axis":{"values":[0.05,0.075,0.1,0.125,0.15,0.175,0.2,0.225],"format":".3f"}},
"color":{"field":"s","type":"nominal","scale":{"domain":["RNN-based (T)","RNN-based (V)","Myopic (V)","Batch (V)"],"range":["#0000ff","#008000","#000000","#000000"]},"legend":{"title":null,"orient":"none","legendX":153.7,"legendY":-56.3,"direction":"horizontal"}},
"strokeDash":{"field":"s","type":"nominal","scale":{"domain":["RNN-based (T)","RNN-based (V)","Myopic (V)","Batch (V)"],"range":[[1,0],[1,0],[6.5,3.5],[1,0]]},"legend":{"title":null,"orient":"none","legendX":153.7,"legendY":-56.3,"direction":"horizontal"}}}}
]
}
], "spacing": 0, "bounds": "flush"},
{"hconcat": [
{
"width": 385, "height": 280,
"title": {"text": "(d) (4,2), η = 1, and R3.", "dx": -21},
"layer": [
{"data":{"name":"curves"},"transform":[{"filter":"datum.p==='d' && datum.s==='RNN-based (T)'"}],"mark":{"type":"area","color":"#0000ff","opacity":0.2,"interpolate":"monotone"},
"encoding":{"x":{"field":"x","type":"quantitative","title":"Epoch","scale":{"domain":[-19.9,420.1],"nice":false,"zero":false},"axis":{"values":[0,50,100,150,200,250,300,350,400],"format":"d"}},
"y":{"field":"lo","type":"quantitative","title":"Loss","scale":{"domain":[0.4426,1.9466],"nice":false,"zero":false},"axis":{"values":[0.6,0.8,1.0,1.2,1.4,1.6,1.8],"format":".1f"}},"y2":{"field":"hi"}}},
{"data":{"name":"curves"},"transform":[{"filter":"datum.p==='d' && datum.s==='RNN-based (V)'"}],"mark":{"type":"area","color":"#008000","opacity":0.2,"interpolate":"monotone"},
"encoding":{"x":{"field":"x","type":"quantitative","title":"Epoch","scale":{"domain":[-19.9,420.1],"nice":false,"zero":false},"axis":{"values":[0,50,100,150,200,250,300,350,400],"format":"d"}},
"y":{"field":"lo","type":"quantitative","title":"Loss","scale":{"domain":[0.4426,1.9466],"nice":false,"zero":false},"axis":{"values":[0.6,0.8,1.0,1.2,1.4,1.6,1.8],"format":".1f"}},"y2":{"field":"hi"}}},
{"data":{"name":"hl"},"transform":[{"filter":"datum.p==='d'"}],"mark":{"type":"rect","color":"#000000","opacity":0.2},
"encoding":{"x":{"field":"x0","type":"quantitative","title":"Epoch","scale":{"domain":[-19.9,420.1],"nice":false,"zero":false},"axis":{"values":[0,50,100,150,200,250,300,350,400],"format":"d"}},"x2":{"field":"x1"},
"y":{"field":"lo","type":"quantitative","title":"Loss","scale":{"domain":[0.4426,1.9466],"nice":false,"zero":false},"axis":{"values":[0.6,0.8,1.0,1.2,1.4,1.6,1.8],"format":".1f"}},"y2":{"field":"hi"}}},
{"data":{"name":"curves"},"transform":[{"filter":"datum.p==='d'"}],"mark":{"type":"line","strokeWidth":1.6,"interpolate":"monotone"},
"encoding":{"x":{"field":"x","type":"quantitative","title":"Epoch","scale":{"domain":[-19.9,420.1],"nice":false,"zero":false},"axis":{"values":[0,50,100,150,200,250,300,350,400],"format":"d"}},
"y":{"field":"y","type":"quantitative","title":"Loss","scale":{"domain":[0.4426,1.9466],"nice":false,"zero":false},"axis":{"values":[0.6,0.8,1.0,1.2,1.4,1.6,1.8],"format":".1f"}},
"color":{"field":"s","type":"nominal","scale":{"domain":["RNN-based (T)","RNN-based (V)","Myopic (V)","Batch (V)"],"range":["#0000ff","#008000","#000000","#000000"]},"legend":{"title":null,"orient":"none","legendX":153.7,"legendY":-56.3,"direction":"horizontal"}},
"strokeDash":{"field":"s","type":"nominal","scale":{"domain":["RNN-based (T)","RNN-based (V)","Myopic (V)","Batch (V)"],"range":[[1,0],[1,0],[6.5,3.5],[1,0]]},"legend":{"title":null,"orient":"none","legendX":153.7,"legendY":-56.3,"direction":"horizontal"}}}},
{"data":{"name":"hl"},"transform":[{"filter":"datum.p==='d'"}],"mark":{"type":"rule","strokeWidth":1.6},
"encoding":{"x":{"field":"x0","type":"quantitative","title":"Epoch","scale":{"domain":[-19.9,420.1],"nice":false,"zero":false},"axis":{"values":[0,50,100,150,200,250,300,350,400],"format":"d"}},"x2":{"field":"x1"},
"y":{"field":"y","type":"quantitative","title":"Loss","scale":{"domain":[0.4426,1.9466],"nice":false,"zero":false},"axis":{"values":[0.6,0.8,1.0,1.2,1.4,1.6,1.8],"format":".1f"}},
"color":{"field":"s","type":"nominal","scale":{"domain":["RNN-based (T)","RNN-based (V)","Myopic (V)","Batch (V)"],"range":["#0000ff","#008000","#000000","#000000"]},"legend":{"title":null,"orient":"none","legendX":153.7,"legendY":-56.3,"direction":"horizontal"}},
"strokeDash":{"field":"s","type":"nominal","scale":{"domain":["RNN-based (T)","RNN-based (V)","Myopic (V)","Batch (V)"],"range":[[1,0],[1,0],[6.5,3.5],[1,0]]},"legend":{"title":null,"orient":"none","legendX":153.7,"legendY":-56.3,"direction":"horizontal"}}}}
]
},
{"width": 100.7, "height": 10, "view": {"stroke": null}, "data": {"values": [{}]}, "mark": {"type": "text", "text": ""}, "encoding": {}},
{
"width": 358.3, "height": 280,
"title": {"text": "(e) (4,2), η = 1, and R4.", "dx": -36.7},
"layer": [
{"data":{"name":"curves"},"transform":[{"filter":"datum.p==='e' && datum.s==='RNN-based (T)'"}],"mark":{"type":"area","color":"#0000ff","opacity":0.2,"interpolate":"monotone"},
"encoding":{"x":{"field":"x","type":"quantitative","title":"Epoch","scale":{"domain":[-31.3,669.6],"nice":false,"zero":false},"axis":{"values":[0,100,200,300,400,500,600],"format":"d"}},
"y":{"field":"lo","type":"quantitative","title":"Loss","scale":{"domain":[0.0000811,0.001666],"nice":false,"zero":false},"axis":{"values":[0.0002,0.0004,0.0006,0.0008,0.001,0.0012,0.0014,0.0016],"format":".4f"}},"y2":{"field":"hi"}}},
{"data":{"name":"curves"},"transform":[{"filter":"datum.p==='e' && datum.s==='RNN-based (V)'"}],"mark":{"type":"area","color":"#008000","opacity":0.2,"interpolate":"monotone"},
"encoding":{"x":{"field":"x","type":"quantitative","title":"Epoch","scale":{"domain":[-31.3,669.6],"nice":false,"zero":false},"axis":{"values":[0,100,200,300,400,500,600],"format":"d"}},
"y":{"field":"lo","type":"quantitative","title":"Loss","scale":{"domain":[0.0000811,0.001666],"nice":false,"zero":false},"axis":{"values":[0.0002,0.0004,0.0006,0.0008,0.001,0.0012,0.0014,0.0016],"format":".4f"}},"y2":{"field":"hi"}}},
{"data":{"name":"hl"},"transform":[{"filter":"datum.p==='e'"}],"mark":{"type":"rect","color":"#000000","opacity":0.2},
"encoding":{"x":{"field":"x0","type":"quantitative","title":"Epoch","scale":{"domain":[-31.3,669.6],"nice":false,"zero":false},"axis":{"values":[0,100,200,300,400,500,600],"format":"d"}},"x2":{"field":"x1"},
"y":{"field":"lo","type":"quantitative","title":"Loss","scale":{"domain":[0.0000811,0.001666],"nice":false,"zero":false},"axis":{"values":[0.0002,0.0004,0.0006,0.0008,0.001,0.0012,0.0014,0.0016],"format":".4f"}},"y2":{"field":"hi"}}},
{"data":{"name":"curves"},"transform":[{"filter":"datum.p==='e'"}],"mark":{"type":"line","strokeWidth":1.6,"interpolate":"monotone"},
"encoding":{"x":{"field":"x","type":"quantitative","title":"Epoch","scale":{"domain":[-31.3,669.6],"nice":false,"zero":false},"axis":{"values":[0,100,200,300,400,500,600],"format":"d"}},
"y":{"field":"y","type":"quantitative","title":"Loss","scale":{"domain":[0.0000811,0.001666],"nice":false,"zero":false},"axis":{"values":[0.0002,0.0004,0.0006,0.0008,0.001,0.0012,0.0014,0.0016],"format":".4f"}},
"color":{"field":"s","type":"nominal","scale":{"domain":["RNN-based (T)","RNN-based (V)","Myopic (V)","Batch (V)"],"range":["#0000ff","#008000","#000000","#000000"]},"legend":{"title":null,"orient":"none","legendX":153.7,"legendY":-56.3,"direction":"horizontal"}},
"strokeDash":{"field":"s","type":"nominal","scale":{"domain":["RNN-based (T)","RNN-based (V)","Myopic (V)","Batch (V)"],"range":[[1,0],[1,0],[6.5,3.5],[1,0]]},"legend":{"title":null,"orient":"none","legendX":153.7,"legendY":-56.3,"direction":"horizontal"}}}},
{"data":{"name":"hl"},"transform":[{"filter":"datum.p==='e'"}],"mark":{"type":"rule","strokeWidth":1.6},
"encoding":{"x":{"field":"x0","type":"quantitative","title":"Epoch","scale":{"domain":[-31.3,669.6],"nice":false,"zero":false},"axis":{"values":[0,100,200,300,400,500,600],"format":"d"}},"x2":{"field":"x1"},
"y":{"field":"y","type":"quantitative","title":"Loss","scale":{"domain":[0.0000811,0.001666],"nice":false,"zero":false},"axis":{"values":[0.0002,0.0004,0.0006,0.0008,0.001,0.0012,0.0014,0.0016],"format":".4f"}},
"color":{"field":"s","type":"nominal","scale":{"domain":["RNN-based (T)","RNN-based (V)","Myopic (V)","Batch (V)"],"range":["#0000ff","#008000","#000000","#000000"]},"legend":{"title":null,"orient":"none","legendX":153.7,"legendY":-56.3,"direction":"horizontal"}},
"strokeDash":{"field":"s","type":"nominal","scale":{"domain":["RNN-based (T)","RNN-based (V)","Myopic (V)","Batch (V)"],"range":[[1,0],[1,0],[6.5,3.5],[1,0]]},"legend":{"title":null,"orient":"none","legendX":153.7,"legendY":-56.3,"direction":"horizontal"}}}}
]
},
{"width": 92, "height": 10, "view": {"stroke": null}, "data": {"values": [{}]}, "mark": {"type": "text", "text": ""}, "encoding": {}},
{
"width": 367.4, "height": 280,
"title": {"text": "(f) (3,1), η = 10, and R5.", "dx": -32},
"layer": [
{"data":{"name":"curves"},"transform":[{"filter":"datum.p==='f' && datum.s==='RNN-based (T)'"}],"mark":{"type":"area","color":"#0000ff","opacity":0.2},
"encoding":{"x":{"field":"x","type":"quantitative","title":"Epoch","scale":{"domain":[-14.3,315.0],"nice":false,"zero":false},"axis":{"values":[0,50,100,150,200,250,300],"format":"d"}},
"y":{"field":"lo","type":"quantitative","title":"Loss","scale":{"domain":[-0.000304,0.010763],"nice":false,"zero":false},"axis":{"values":[0,0.002,0.004,0.006,0.008,0.01],"format":".3f"}},"y2":{"field":"hi"}}},
{"data":{"name":"curves"},"transform":[{"filter":"datum.p==='f' && datum.s==='RNN-based (V)'"}],"mark":{"type":"area","color":"#008000","opacity":0.2},
"encoding":{"x":{"field":"x","type":"quantitative","title":"Epoch","scale":{"domain":[-14.3,315.0],"nice":false,"zero":false},"axis":{"values":[0,50,100,150,200,250,300],"format":"d"}},
"y":{"field":"lo","type":"quantitative","title":"Loss","scale":{"domain":[-0.000304,0.010763],"nice":false,"zero":false},"axis":{"values":[0,0.002,0.004,0.006,0.008,0.01],"format":".3f"}},"y2":{"field":"hi"}}},
{"data":{"name":"hl"},"transform":[{"filter":"datum.p==='f'"}],"mark":{"type":"rect","color":"#000000","opacity":0.2},
"encoding":{"x":{"field":"x0","type":"quantitative","title":"Epoch","scale":{"domain":[-14.3,315.0],"nice":false,"zero":false},"axis":{"values":[0,50,100,150,200,250,300],"format":"d"}},"x2":{"field":"x1"},
"y":{"field":"lo","type":"quantitative","title":"Loss","scale":{"domain":[-0.000304,0.010763],"nice":false,"zero":false},"axis":{"values":[0,0.002,0.004,0.006,0.008,0.01],"format":".3f"}},"y2":{"field":"hi"}}},
{"data":{"name":"curves"},"transform":[{"filter":"datum.p==='f'"}],"mark":{"type":"line","strokeWidth":1.6},
"encoding":{"x":{"field":"x","type":"quantitative","title":"Epoch","scale":{"domain":[-14.3,315.0],"nice":false,"zero":false},"axis":{"values":[0,50,100,150,200,250,300],"format":"d"}},
"y":{"field":"y","type":"quantitative","title":"Loss","scale":{"domain":[-0.000304,0.010763],"nice":false,"zero":false},"axis":{"values":[0,0.002,0.004,0.006,0.008,0.01],"format":".3f"}},
"color":{"field":"s","type":"nominal","scale":{"domain":["RNN-based (T)","RNN-based (V)","Myopic (V)","Batch (V)"],"range":["#0000ff","#008000","#000000","#000000"]},"legend":{"title":null,"orient":"none","legendX":153.7,"legendY":-56.3,"direction":"horizontal"}},
"strokeDash":{"field":"s","type":"nominal","scale":{"domain":["RNN-based (T)","RNN-based (V)","Myopic (V)","Batch (V)"],"range":[[1,0],[1,0],[6.5,3.5],[1,0]]},"legend":{"title":null,"orient":"none","legendX":153.7,"legendY":-56.3,"direction":"horizontal"}}}},
{"data":{"name":"hl"},"transform":[{"filter":"datum.p==='f'"}],"mark":{"type":"rule","strokeWidth":1.6},
"encoding":{"x":{"field":"x0","type":"quantitative","title":"Epoch","scale":{"domain":[-14.3,315.0],"nice":false,"zero":false},"axis":{"values":[0,50,100,150,200,250,300],"format":"d"}},"x2":{"field":"x1"},
"y":{"field":"y","type":"quantitative","title":"Loss","scale":{"domain":[-0.000304,0.010763],"nice":false,"zero":false},"axis":{"values":[0,0.002,0.004,0.006,0.008,0.01],"format":".3f"}},
"color":{"field":"s","type":"nominal","scale":{"domain":["RNN-based (T)","RNN-based (V)","Myopic (V)","Batch (V)"],"range":["#0000ff","#008000","#000000","#000000"]},"legend":{"title":null,"orient":"none","legendX":153.7,"legendY":-56.3,"direction":"horizontal"}},
"strokeDash":{"field":"s","type":"nominal","scale":{"domain":["RNN-based (T)","RNN-based (V)","Myopic (V)","Batch (V)"],"range":[[1,0],[1,0],[6.5,3.5],[1,0]]},"legend":{"title":null,"orient":"none","legendX":153.7,"legendY":-56.3,"direction":"horizontal"}}}}
]
}
], "spacing": 0, "bounds": "flush"}
],
"spacing": 47.7,
"config": {
"view": {"stroke": "#000000", "strokeWidth": 1.1},
"axis": {"domain": false, "grid": true, "gridColor": "#b0b0b0", "gridWidth": 1, "gridOpacity": 1, "ticks": true, "tickColor": "#000000", "tickSize": 4.5, "tickWidth": 1, "labelFont": "DejaVu Sans", "labelFontSize": 13, "labelColor": "#000000", "labelPadding": 3.5, "labelFlush": false, "labelOverlap": false, "titleFont": "DejaVu Sans", "titleFontSize": 15, "titleFontWeight": "normal", "titleColor": "#000000"},
"axisX": {"titlePadding": 2},
"axisY": {"titlePadding": 5},
"title": {"font": "Liberation Serif", "fontSize": 25, "fontWeight": "normal", "color": "#000000", "orient": "bottom", "anchor": "middle", "frame": "group", "offset": 22},
"legend": {"symbolType": "stroke", "symbolStrokeWidth": 2, "labelFont": "DejaVu Sans", "labelFontSize": 22.5, "labelLimit": 400, "labelColor": "#000000", "symbolSize": 2116, "labelOffset": 17, "columnPadding": 40, "padding": 2, "strokeColor": "#cccccc", "fillColor": "#ffffff", "cornerRadius": 4}
}
}
